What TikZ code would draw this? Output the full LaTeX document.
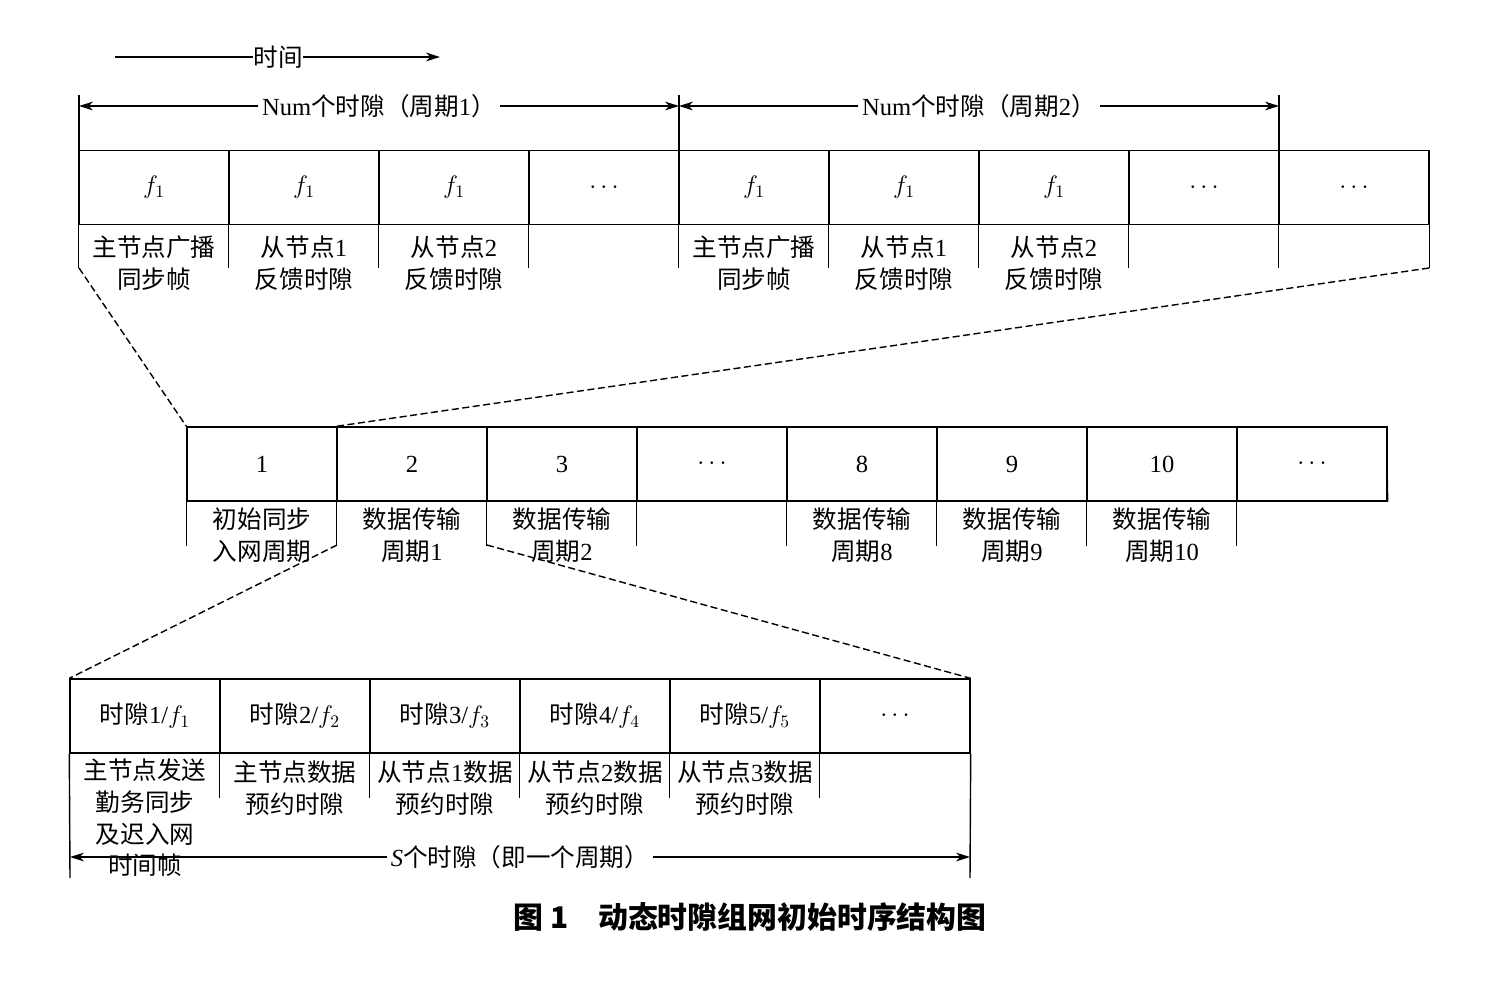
\documentclass[tikz,border=0pt]{standalone}
\usepackage{fontspec}
\setmainfont{Liberation Serif}
\newfontfamily\cjk{Noto Sans CJK SC}
\usetikzlibrary{arrows.meta}
\begin{document}
\begin{tikzpicture}[x=0.02cm,y=-0.02cm,
  cell/.style={draw,line width=0.8pt,minimum width=3cm,minimum height=1.48cm,inner sep=0pt,font=\fontsize{14}{16}\selectfont\cjk},
  lbl/.style={font=\fontsize{14}{18}\selectfont\cjk,align=center,inner sep=0pt},
  ln/.style={line width=0.8pt},
  dl/.style={line width=0.8pt,dashed,dash pattern=on 4pt off 2pt},
  arr/.style={line width=0.8pt,-{Stealth[length=8pt,width=5pt]}},
  darr/.style={line width=0.8pt,{Stealth[length=8pt,width=5pt]}-{Stealth[length=8pt,width=5pt]}}]
\useasboundingbox (0,0) rectangle (1500,984);
% time arrow
\node[lbl] (t) at (278,57) {时间};
\coordinate (t0) at (115,57); \coordinate (t1) at (440,57);
\draw[ln] (t0) -- (t.west); \draw[arr] (t.east) -- (t1);
% top period arrows
\coordinate (p0) at (79,106); \coordinate (p1) at (679,106); \coordinate (p2) at (1279,106);
\node[lbl,fill=white,inner sep=2pt] (n1) at (379,106) {\rmfamily Num\cjk 个时隙（周期\rmfamily 1\cjk ）};
\node[lbl,fill=white,inner sep=2pt] (n2) at (979,106) {\rmfamily Num\cjk 个时隙（周期\rmfamily 2\cjk ）};
\draw[arr] (n1.west) -- (p0); \draw[arr] (n1.east) -- (p1);
\draw[arr] (n2.west) -- (p1); \draw[arr] (n2.east) -- (p2);
\draw[ln] (79,95) -- (79,150) (679,95) -- (679,150) (1279,95) -- (1279,150);
% top row
\foreach \i/\t in {0/{$f_1$},1/{$f_1$},2/{$f_1$},3/{$\cdots$},4/{$f_1$},5/{$f_1$},6/{$f_1$},7/{$\cdots$},8/{$\cdots$}}{
  \node[cell] (a\i) at (154+150*\i,187.5) {\t};
  \draw[ln] (a\i.south west) -- ++(0,43);
}
\draw[ln] (a8.south east) -- ++(0,43);
\foreach \i/\t in {0/{主节点广播\\同步帧},1/{从节点\rmfamily 1\cjk\\反馈时隙},2/{从节点\rmfamily 2\cjk\\反馈时隙},4/{主节点广播\\同步帧},5/{从节点\rmfamily 1\cjk\\反馈时隙},6/{从节点\rmfamily 2\cjk\\反馈时隙}}{
  \node[lbl] (al\i) at (154+150*\i,263) {\t};
}
% middle row
\foreach \i/\t in {0/1,1/2,2/3,3/{$\cdots$},4/8,5/9,6/10,7/{$\cdots$}}{
  \node[cell,font=\fontsize{14}{16}\selectfont] (b\i) at (262+150*\i,464) {\t};
  \draw[ln] (b\i.south west) -- ++(0,44);
}
\draw[ln] (b7.south east) -- (1387,464);
\foreach \i/\t in {0/{初始同步\\入网周期},1/{数据传输\\周期\rmfamily 1},2/{数据传输\\周期\rmfamily 2},4/{数据传输\\周期\rmfamily 8},5/{数据传输\\周期\rmfamily 9},6/{数据传输\\周期\rmfamily 10}}{
  \node[lbl] (bl\i) at (262+150*\i,535) {\t};
}
\coordinate (ta) at (79,268); \coordinate (tb) at (1429,268);
\draw[dl] (ta) -- (b0.north west);
\draw[dl] (tb) -- (b1.north west);
% bottom row
\foreach \i/\t in {0/{时隙\rmfamily 1/$f_1$},1/{时隙\rmfamily 2/$f_2$},2/{时隙\rmfamily 3/$f_3$},3/{时隙\rmfamily 4/$f_4$},4/{时隙\rmfamily 5/$f_5$},5/{$\cdots$}}{
  \node[cell] (c\i) at (145+150*\i,716) {\t};
}
\foreach \i in {1,...,5}{\draw[ln] (c\i.south west) -- ++(0,44);}
\draw[ln] (c0.south west) -- (70,878);
\draw[ln] (c5.south east) -- (970,878);
\node[lbl] (cl0) at (145,818) {主节点发送\\勤务同步\\及迟入网\\时间帧};
\foreach \i/\t in {1/{主节点数据\\预约时隙},2/{从节点\rmfamily 1\cjk 数据\\预约时隙},3/{从节点\rmfamily 2\cjk 数据\\预约时隙},4/{从节点\rmfamily 3\cjk 数据\\预约时隙}}{
  \node[lbl] (cl\i) at (145+150*\i,788) {\t};
}
\coordinate (mb1) at (337,545); \coordinate (mb2) at (487,545);
\draw[dl] (mb1) -- (c0.north west);
\draw[dl] (mb2) -- (c5.north east);
\coordinate (s0) at (70,857); \coordinate (s1) at (970,857);
\node[lbl,fill=white,inner sep=2pt] (sl) at (520,857) {\rmfamily\itshape S\cjk 个时隙（即一个周期）};
\draw[arr] (sl.west) -- (s0); \draw[arr] (sl.east) -- (s1);
% caption
\node[font=\fontsize{17}{20}\selectfont\cjk\bfseries] (cap) at (750,917) {图 1\quad 动态时隙组网初始时序结构图};
\end{tikzpicture}
\end{document}
